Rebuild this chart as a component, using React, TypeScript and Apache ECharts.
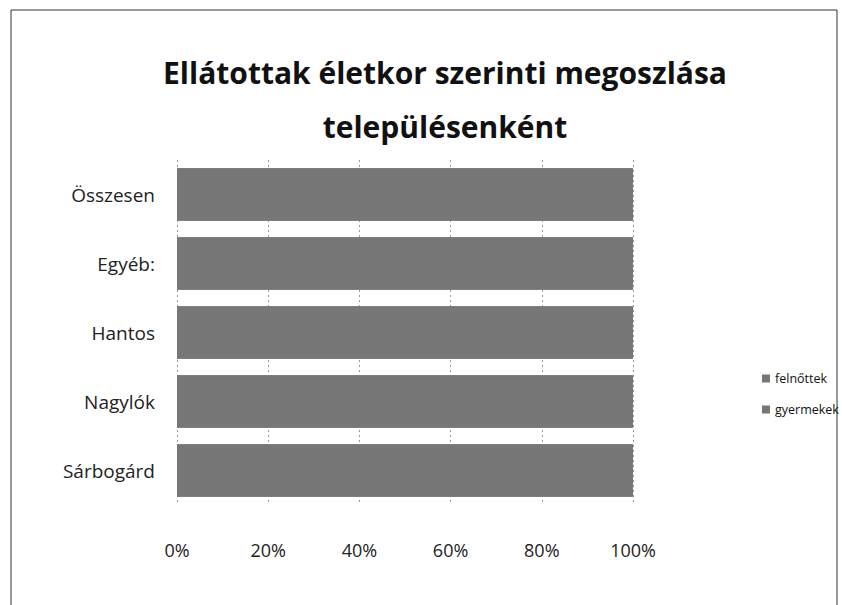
import React, { useEffect, useRef } from "react";
import * as echarts from "echarts";

const categories = ["Sárbogárd", "Nagylók", "Hantos", "Egyéb:", "Összesen"];
const seriesNames = ["felnőttek", "gyermekek"];
const felnottek = [80, 80, 80, 80, 80];
const gyermekek = [20, 20, 20, 20, 20];
const tickLabels = ["0%", "20%", "40%", "60%", "80%", "100%"];
const titleLines = ["Ellátottak életkor szerinti megoszlása", "településenként"];

export default function App() {
  const ref = useRef<HTMLDivElement>(null);
  useEffect(() => {
    document.body.style.margin = "0";
    const chart = echarts.init(ref.current!, null, { renderer: "svg" });
    const font = "'Open Sans', 'Noto Sans', sans-serif";
    const barColor = "#777777";
    chart.setOption({
      animation: false,
      backgroundColor: "#ffffff",
      textStyle: { fontFamily: font },
      title: {
        text: titleLines.join("\n"),
        left: 440,
        top: 40,
        textAlign: "center",
        textStyle: { fontFamily: font, fontSize: 30, fontWeight: "bold", color: "#111", lineHeight: 54 },
      },
      legend: {
        orient: "vertical",
        left: 762,
        top: 372,
        padding: 0,
        itemWidth: 8,
        itemHeight: 8,
        itemGap: 18,
        icon: "rect",
        data: seriesNames,
        textStyle: { fontFamily: font, fontSize: 12.5, color: "#111" },
      },
      grid: { left: 177, width: 456, top: 160, height: 345 },
      xAxis: {
        type: "value",
        min: 0,
        max: 100,
        interval: 20,
        axisLine: { show: false },
        axisTick: { show: false },
        splitLine: { show: true, lineStyle: { color: "#999", type: [2, 3], width: 1 } },
        axisLabel: {
          margin: 36,
          fontSize: 18,
          color: "#222",
          fontFamily: font,
          formatter: (v: number) => tickLabels[Math.round(v / 20)],
        },
      },
      yAxis: {
        type: "category",
        data: categories,
        axisLine: { show: false },
        axisTick: { show: false },
        axisLabel: { margin: 22, fontSize: 19, color: "#222", fontFamily: font },
      },
      series: [
        {
          name: seriesNames[0],
          type: "bar",
          stack: "total",
          data: felnottek,
          barWidth: "76%",
          showBackground: true,
          backgroundStyle: { color: barColor },
          itemStyle: { color: barColor },
        },
        {
          name: seriesNames[1],
          type: "bar",
          stack: "total",
          data: gyermekek,
          barWidth: "76%",
          itemStyle: { color: barColor },
        },
      ],
      graphic: [
        {
          type: "rect",
          shape: { x: 11, y: 10, width: 826, height: 600 },
          style: { fill: "none", stroke: "#333", lineWidth: 1 },
          silent: true,
        },
      ],
    });
    return () => chart.dispose();
  }, []);
  return <div ref={ref} style={{ width: 842, height: 605 }} />;
}
